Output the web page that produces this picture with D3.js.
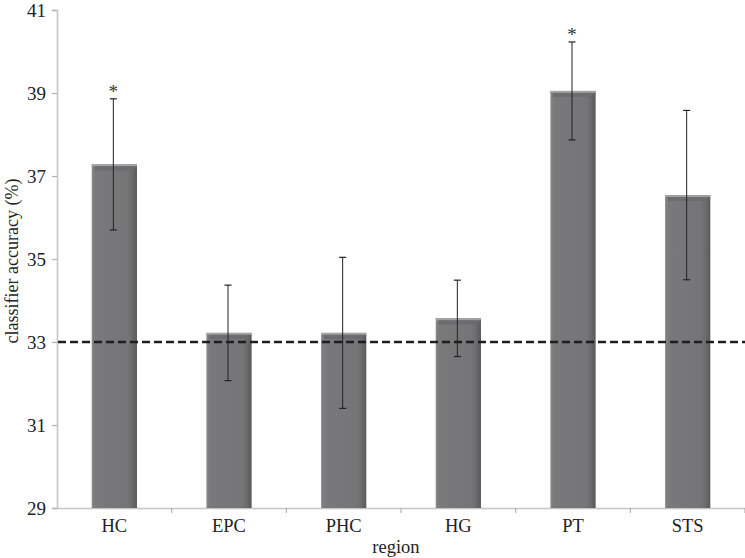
<!DOCTYPE html>
<html><head><meta charset="utf-8">
<script src="https://cdn.jsdelivr.net/npm/d3@7"></script>
<style>body{margin:0;background:#fff}svg{display:block}svg text{font-family:'Liberation Serif','DejaVu Serif',serif !important;fill:#222}</style>
</head><body>
<svg id="c" width="745" height="558"></svg>
<script>
const categories = ["HC","EPC","PHC","HG","PT","STS"];
const means = [37.28, 33.22, 33.22, 33.57, 39.05, 36.54];
const errors = [1.58, 1.15, 1.82, 0.92, 1.18, 2.04];
const significant = [true, false, false, false, true, false];
const yTicks = [29,31,33,35,37,39,41];
const chance = 33;

const svg = d3.select("#c");
const m = {l:57, r:745, t:10, b:508};
const x = d3.scaleBand().domain(categories).range([m.l, m.r]).paddingInner(0).paddingOuter(0);
const y = d3.scaleLinear().domain([29,41]).range([m.b, m.t]);
const barW = x.bandwidth()*0.395;

const defs = svg.append("defs");
const g = defs.append("linearGradient").attr("id","bg").attr("x1","0").attr("x2","1").attr("y1","0").attr("y2","0");
[[0,"#949496"],[0.04,"#7d7d7f"],[0.1,"#79797b"],[0.8,"#757577"],[0.9,"#6a6a6c"],[1,"#5a5a5c"]].forEach(s=>g.append("stop").attr("offset",s[0]).attr("stop-color",s[1]));

// axes
const yAxis = svg.append("g").attr("transform",`translate(${m.l},0)`)
  .call(d3.axisLeft(y).tickValues(yTicks).tickSize(5).tickPadding(6));
yAxis.select(".domain").attr("stroke","#c4c4c4").attr("stroke-width",1.5);
yAxis.selectAll(".tick line").attr("stroke","#b0b0b0").attr("stroke-width",1.2);
yAxis.selectAll(".tick text").attr("font-size",19);

const xAxis = svg.append("g").attr("transform",`translate(0,${m.b})`)
  .call(d3.axisBottom(x).tickSize(0).tickPadding(11));
xAxis.select(".domain").attr("stroke","#c4c4c4").attr("stroke-width",1.5);
xAxis.selectAll(".tick text").attr("font-size",18.5);
// boundary ticks
const bounds = categories.map(c=>x(c)).concat([m.r]).slice(1);
svg.append("g").selectAll("line").data(bounds).join("line")
  .attr("x1",d=>d).attr("x2",d=>d).attr("y1",m.b).attr("y2",m.b+5)
  .attr("stroke","#b0b0b0").attr("stroke-width",1.2);

// bars
const bars = svg.append("g").selectAll("g").data(categories).join("g");
bars.append("rect")
  .attr("x",(d)=>x(d)+x.bandwidth()/2-barW/2).attr("width",barW)
  .attr("y",(d,i)=>y(means[i])).attr("height",(d,i)=>y(29)-y(means[i]))
  .attr("fill","url(#bg)");
bars.append("rect")
  .attr("x",(d)=>x(d)+x.bandwidth()/2-barW/2).attr("width",barW)
  .attr("y",(d,i)=>y(means[i])).attr("height",2)
  .attr("fill","#a2a2a4");
bars.append("rect")
  .attr("x",(d)=>x(d)+x.bandwidth()/2-barW/2+3).attr("width",barW-6)
  .attr("y",(d,i)=>y(means[i])+2).attr("height",4)
  .attr("fill","#6c6c6e");

// chance line
svg.append("line").attr("x1",m.l+1).attr("x2",m.r).attr("y1",y(chance)).attr("y2",y(chance))
  .attr("stroke","#1e1e1e").attr("stroke-width",2.6).attr("stroke-dasharray","8,4");

// error bars
const eb = svg.append("g").selectAll("g").data(categories).join("g")
  .attr("transform",d=>`translate(${x(d)+x.bandwidth()/2-1},0)`);
eb.append("line").attr("x1",0).attr("x2",0)
  .attr("y1",(d,i)=>y(means[i]+errors[i])).attr("y2",(d,i)=>y(means[i]-errors[i]))
  .attr("stroke","#222").attr("stroke-width",1);
eb.append("line").attr("x1",-3.5).attr("x2",3.5)
  .attr("y1",(d,i)=>y(means[i]+errors[i])).attr("y2",(d,i)=>y(means[i]+errors[i]))
  .attr("stroke","#222").attr("stroke-width",1.2);
eb.append("line").attr("x1",-3.5).attr("x2",3.5)
  .attr("y1",(d,i)=>y(means[i]-errors[i])).attr("y2",(d,i)=>y(means[i]-errors[i]))
  .attr("stroke","#222").attr("stroke-width",1.2);
eb.filter((d,i)=>significant[i]).append("text")
  .attr("text-anchor","middle").attr("font-size",19)
  .attr("y",(d)=>{const i=categories.indexOf(d);return y(means[i]+errors[i])-1;})
  .style("fill","#333")
  .text("*");

// titles
svg.append("text").attr("x",396).attr("y",553).attr("text-anchor","middle")
  .attr("font-size",18.5).text("region");
svg.append("text").attr("transform",`translate(18,${(m.t+m.b)/2+2}) rotate(-90)`)
  .attr("text-anchor","middle").attr("font-size",18).text("classifier accuracy (%)");
</script>
</body></html>
